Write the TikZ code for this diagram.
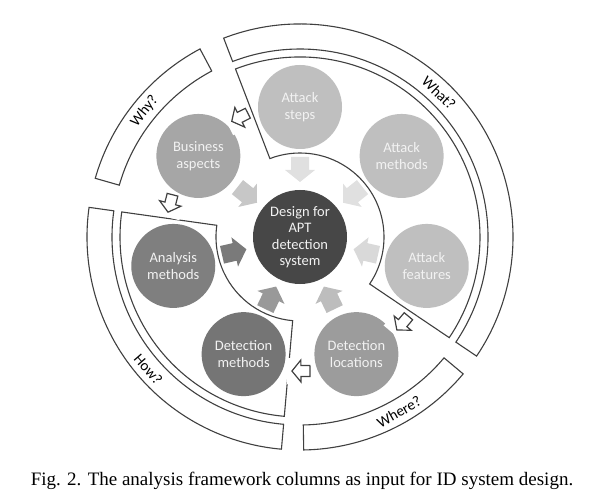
\documentclass[tikz,border=0pt]{standalone}
\usepackage{fontspec}
\setmainfont{Liberation Serif}
\newfontfamily\calibfont{Carlito}

\definecolor{edgegray}{HTML}{404040}
\definecolor{hubgray}{HTML}{474747}
\definecolor{whatgray}{HTML}{BFBFBF}
\definecolor{whygray}{HTML}{A6A6A6}
\definecolor{wheregray}{HTML}{9C9C9C}
\definecolor{howgray}{HTML}{7F7F7F}
\definecolor{howdgray}{HTML}{757575}

\tikzset{
  frame/.style={draw=edgegray, line width=1.1pt, fill=white, line join=miter},
  bubble/.style={circle, minimum size=84pt, inner sep=0pt, align=center,
    text=white!95!black, font=\calibfont\fontsize{14.5}{16.5}\selectfont},
  bandtext/.style={font=\calibfont\fontsize{15}{17}\selectfont, text=black},
  hollow/.style={draw=edgegray, line width=1.2pt, fill=white, line join=miter}
}

\begin{document}
\begin{tikzpicture}[x=1pt,y=1pt]
            \useasboundingbox (-300,-263) rectangle (304,237);

            % inner sectors
            \draw[frame] (111:84) -- (111:180) arc[start angle=111, end angle=-34, radius=180]
                -- (-34:84) arc[start angle=-34, end angle=111, radius=84] -- cycle;
            \draw[frame] (172:84) -- (172:180) arc[start angle=172, end angle=265, radius=180]
                -- (265:84) arc[start angle=265, end angle=172, radius=84] -- cycle;

            % outer bands
            \draw[frame] (111:188) -- (111:213) arc[start angle=111, end angle=-34, radius=213]
                -- (-34:188) arc[start angle=-34, end angle=111, radius=188] -- cycle;
            \draw[frame] (118:188) -- (118:213) arc[start angle=118, end angle=164, radius=213]
                -- (164:188) arc[start angle=164, end angle=118, radius=188] -- cycle;
            \draw[frame] (172:188) -- (172:213) arc[start angle=172, end angle=265, radius=213]
                -- (265:188) arc[start angle=265, end angle=172, radius=188] -- cycle;
            \draw[frame] (271:188) -- (271:213) arc[start angle=271, end angle=320, radius=213]
                -- (320:188) arc[start angle=320, end angle=271, radius=188] -- cycle;

            \node[bandtext, rotate=-44] (what) at (46:200) {What?};
            \node[bandtext, rotate=51] (why) at (141:200) {Why?};
            \node[bandtext, rotate=-49] (how) at (-139:201) {How?};
            \node[bandtext, rotate=29.5] (where) at (-60.5:201) {Where?};

            % arrows into the hub
            \foreach \a/\c in {90/white!88!black, 38.57/white!88!black, -12.86/white!85!black,
                               -64.29/white!74!black, -115.71/white!60!black,
                               -167.14/white!48!black, 141.43/white!78!black}
              \fill[\c, rotate=\a] (80,-9) -- (67,-9) -- (67,-15) -- (55,0)
                  -- (67,15) -- (67,9) -- (80,9) -- cycle;

            % columns
            \node[bubble, fill=whatgray] (steps) at (90:130) {Attack\\steps};
            \node[bubble, fill=whatgray] (methods) at (38.57:130) {Attack\\methods};
            \node[bubble, fill=whatgray] (features) at (-12.86:130) {Attack\\features};
            \node[bubble, fill=wheregray] (locations) at (-64.29:130) {Detection\\locations};
            \node[bubble, fill=howdgray] (detection) at (-115.71:130) {Detection\\methods};
            \node[bubble, fill=howgray] (analysis) at (-167.14:130) {Analysis\\methods};
            \node[bubble, fill=whygray] (business) at (141.43:130) {Business\\aspects};

            \node[bubble, fill=hubgray, minimum size=94pt] (hub) at (0,0) {Design for\\APT\\detection\\system};

            % hollow arrows between columns
            \foreach \p/\r in {116.7/206.7, 165.5/255.5, -40/-130, -89.6/-179.6}
            {
              \fill[white, shift={(\p:134)}, rotate=\r] (4,-13) rectangle (14,13);
              \draw[hollow, shift={(\p:134)}, rotate=\r] (-9,-5.5) -- (0,-5.5) -- (0,-11) -- (9,0)
                  -- (0,11) -- (0,5.5) -- (-9,5.5) -- cycle;
            }

            \node[font=\fontsize{19}{22}\selectfont, anchor=base] (caption) at (2,-248)
              {Fig. 2. The analysis framework columns as input for ID system design.};
        \end{tikzpicture}
\end{document}
